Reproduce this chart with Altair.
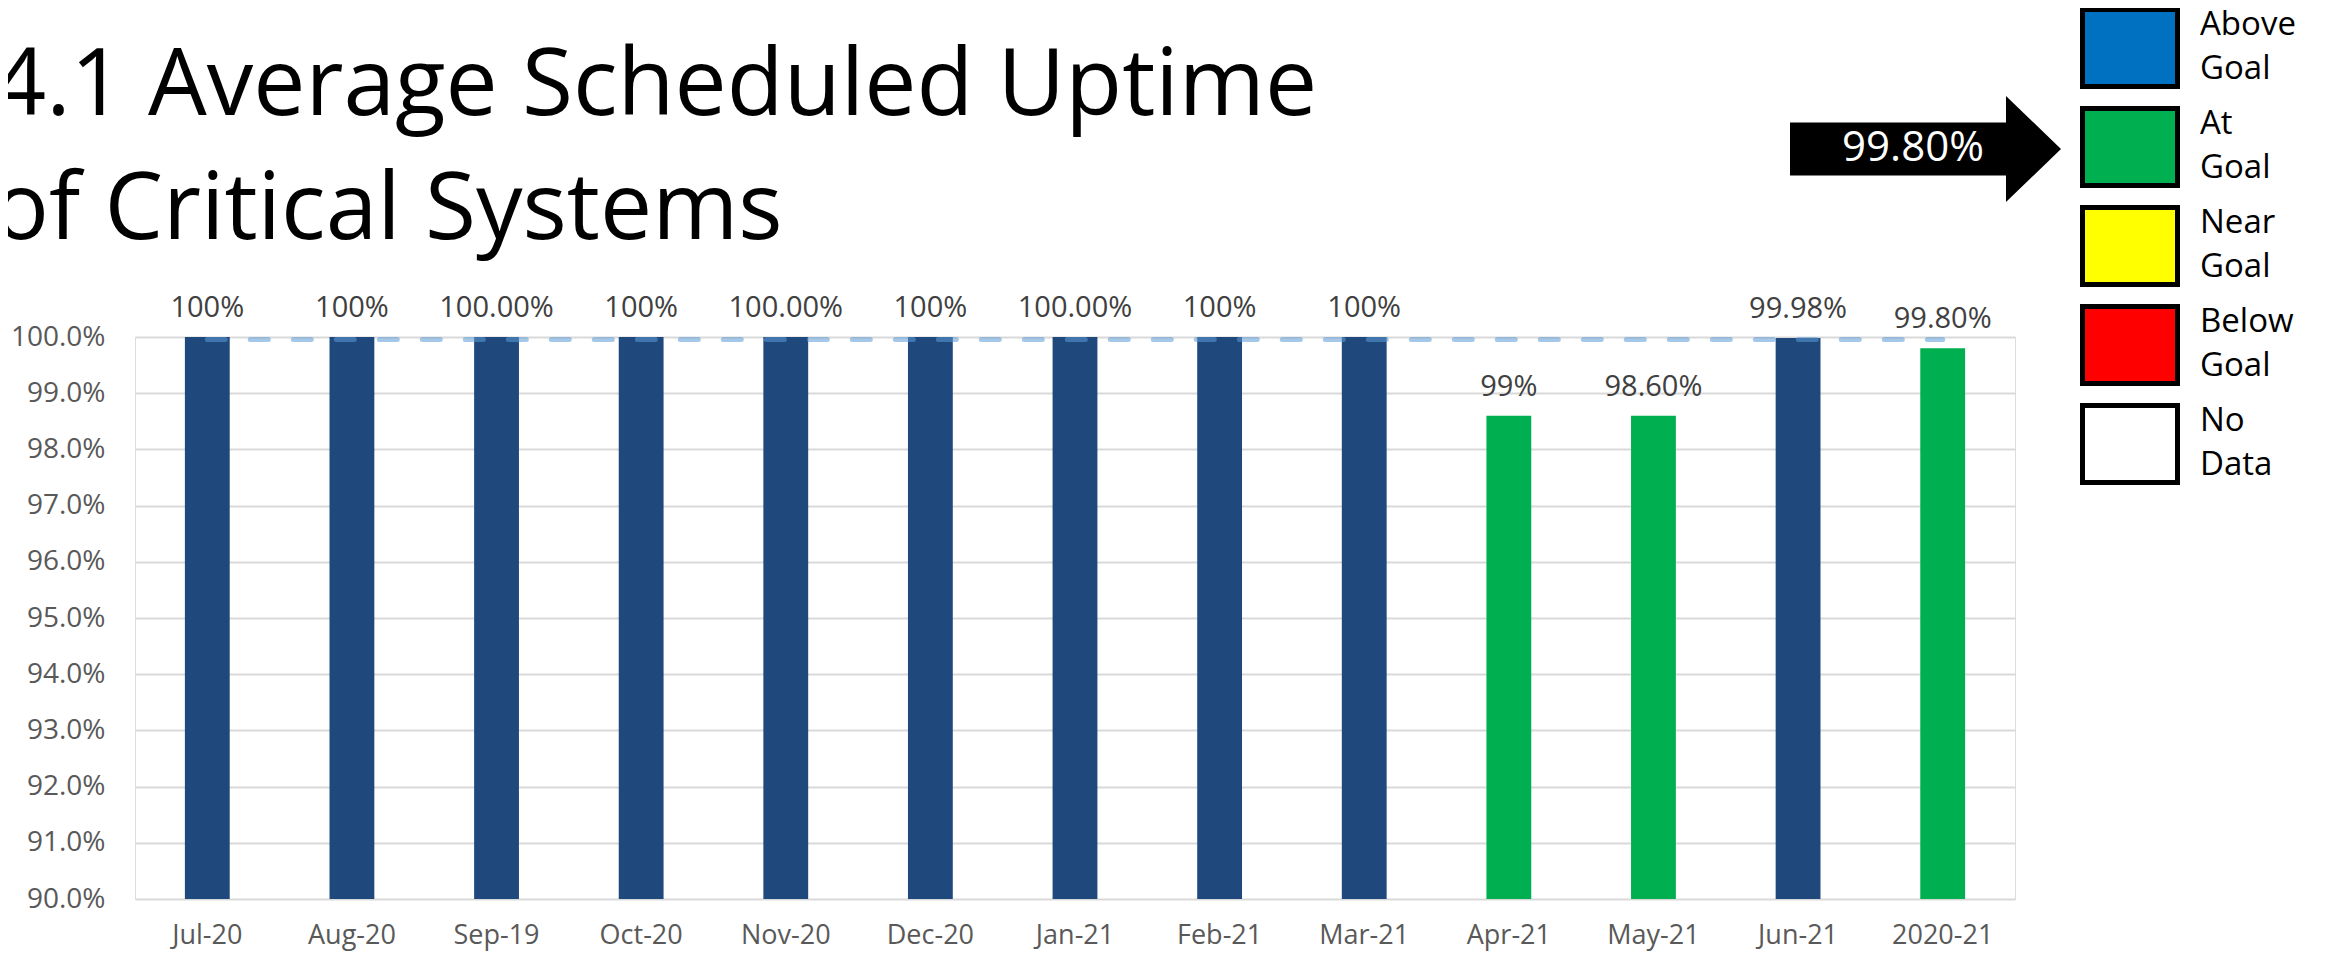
import altair as alt
import pandas as pd

# ---------------- data ----------------
months = ["Jul-20", "Aug-20", "Sep-19", "Oct-20", "Nov-20", "Dec-20", "Jan-21",
          "Feb-21", "Mar-21", "Apr-21", "May-21", "Jun-21", "2020-21"]
uptime = [1.0, 1.0, 1.0, 1.0, 1.0, 1.0, 1.0, 1.0, 1.0, 0.986, 0.986, 0.9998, 0.998]
value_labels = ["100%", "100%", "100.00%", "100%", "100.00%", "100%", "100.00%",
                "100%", "100%", "99%", "98.60%", "99.98%", "99.80%"]
status = ["Above Goal", "Above Goal", "Above Goal", "Above Goal", "Above Goal",
          "Above Goal", "Above Goal", "Above Goal", "Above Goal", "At Goal",
          "At Goal", "Above Goal", "At Goal"]
goal = 1.0
y_ticks = [0.90, 0.91, 0.92, 0.93, 0.94, 0.95, 0.96, 0.97, 0.98, 0.99, 1.00]
title_lines = ["4.1 Average Scheduled Uptime", "of Critical Systems"]
legend_labels = ["Above Goal", "At Goal", "Near Goal", "Below Goal", "No Data"]
annual_callout = "99.80%"

# ---------------- styles ----------------
NAVY = "#1F497D"
GREEN = "#00B050"
LEGEND_COLORS = ["#0070C0", "#00B050", "#FFFF00", "#FF0000", "#FFFFFF"]
FONT = "Open Sans"
ARROW_PATH = ("M-1,-0.196 L0.594,-0.196 L0.594,-0.391 L1,0 "
              "L0.594,0.391 L0.594,0.196 L-1,0.196 Z")

df = pd.DataFrame({"month": months, "uptime": uptime,
                   "label": value_labels, "status": status})
leg_df = pd.DataFrame({"status": legend_labels})
one = pd.DataFrame({"k": [0]})

x = alt.X("month:N", sort=months,
          scale=alt.Scale(paddingInner=0.69, paddingOuter=0.345),
          axis=alt.Axis(title=None, labelAngle=0, labelFontSize=27, labelFont=FONT,
                        labelColor="#595959", labelPadding=23, ticks=False,
                        tickSize=0, domain=False, grid=False))
y = alt.Y("uptime:Q",
          scale=alt.Scale(domain=[0.9, 1.0], zero=False, nice=False),
          axis=alt.Axis(title=None, values=y_ticks, format=".1%", labelFontSize=28,
                        labelFont=FONT, labelColor="#595959", labelPadding=30,
                        ticks=False, tickSize=0, domain=False, grid=True,
                        gridColor="#D9D9D9", gridWidth=2))

bars = alt.Chart(df).mark_bar().encode(
    x=x, y=y, y2=alt.datum(0.9),
    color=alt.Color("status:N",
                    scale=alt.Scale(domain=["Above Goal", "At Goal"], range=[NAVY, GREEN]),
                    legend=None),
)

labels = alt.Chart(df).mark_text(
    baseline="middle", dy=-29, fontSize=29, font=FONT, color="#404040"
).encode(x=x, y=y, text="label:N")

goal_line = alt.Chart(df).mark_line(
    color="#5B9BD5", opacity=0.55, strokeWidth=5, strokeDash=[18, 25], strokeCap="round"
).encode(x=x, y=alt.datum(goal), yOffset=alt.value(2.5))

main = alt.layer(bars, goal_line, labels)

legend_y = alt.Y("status:N", sort=legend_labels,
                 scale=alt.Scale(domain=legend_labels, range=[-327.5, 145.5],
                                 paddingInner=0.222, paddingOuter=0),
                 axis=None)

leg_rect = alt.Chart(leg_df).mark_rect(stroke="black", strokeWidth=5).encode(
    x=alt.value(1947.5), x2=alt.value(2042.5), y=legend_y,
    fill=alt.Fill("status:N", scale=alt.Scale(domain=legend_labels, range=LEGEND_COLORS),
                  legend=None),
)
leg_text = alt.Chart(leg_df).transform_calculate(
    lines="split(datum.status, ' ')"
).mark_text(
    align="left", baseline="middle", dy=-23, fontSize=33, lineHeight=44, font=FONT,
    color="black"
).encode(x=alt.value(2065), y=legend_y, text="lines:N")

legend = alt.layer(leg_rect, leg_text)

title = alt.Chart(one).mark_text(
    align="left", baseline="alphabetic", fontSize=93, lineHeight=124, font=FONT, color="black"
).encode(x=alt.value(-142), y=alt.value(-222), text=alt.value(title_lines))

arrow = alt.Chart(one).mark_point(
    shape=ARROW_PATH, filled=True, color="black", opacity=1, size=73441, strokeWidth=0
).encode(x=alt.value(1790.5), y=alt.value(-188))

arrow_text = alt.Chart(one).mark_text(
    align="center", baseline="middle", fontSize=42, font=FONT, color="white"
).encode(x=alt.value(1778), y=alt.value(-189), text=alt.value(annual_callout))

chart = alt.layer(main, legend, title, arrow, arrow_text).resolve_scale(
    y="independent"
).properties(
    width=1880, height=562,
    autosize=alt.AutoSizeParams(type="none"),
    padding={"left": 127, "top": 329, "right": 290, "bottom": 52},
).configure_view(stroke="#95B8E3", strokeWidth=2).configure(background="white")

chart.save("out.html", embed_options={"renderer": "svg", "actions": False})
